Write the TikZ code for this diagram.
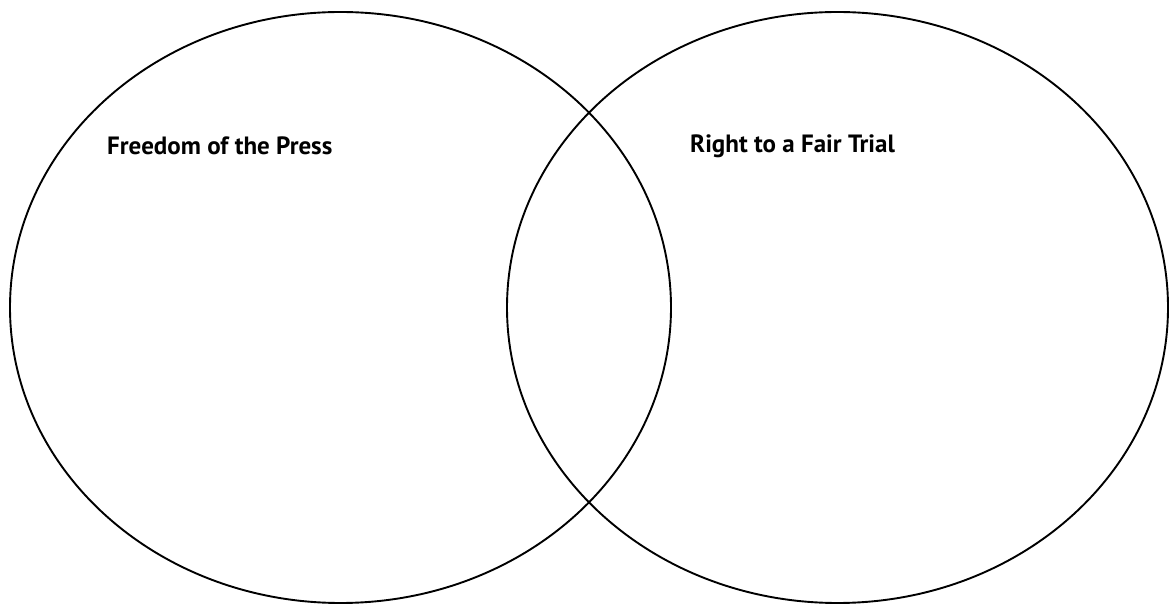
\documentclass[tikz,border=0pt]{standalone}
\usepackage{fontspec}
\setmainfont{PT Sans}
\usetikzlibrary{positioning, shapes.geometric}

\begin{document}
\begin{tikzpicture}[x=1pt, y=1pt,
    setcircle/.style={draw, ellipse, line width=1.9pt, inner sep=0pt,
      minimum width=661pt, minimum height=591pt},
    setlabel/.style={anchor=base west, inner sep=0pt, font=\bfseries\fontsize{25}{29}\selectfont}]
      \useasboundingbox (0, 0) rectangle (1170, 605);

      % Two overlapping sets
      \node[setcircle] (press) at (340.5, 297.5) {};
      \node[setcircle] (trial) at (837.5, 297.5) {};

      % Set titles
      \node[setlabel] (presslabel) at (107, 450) {Freedom of the Press};
      \node[setlabel] (triallabel) at (690, 452) {Right to a Fair Trial};
    \end{tikzpicture}
\end{document}
